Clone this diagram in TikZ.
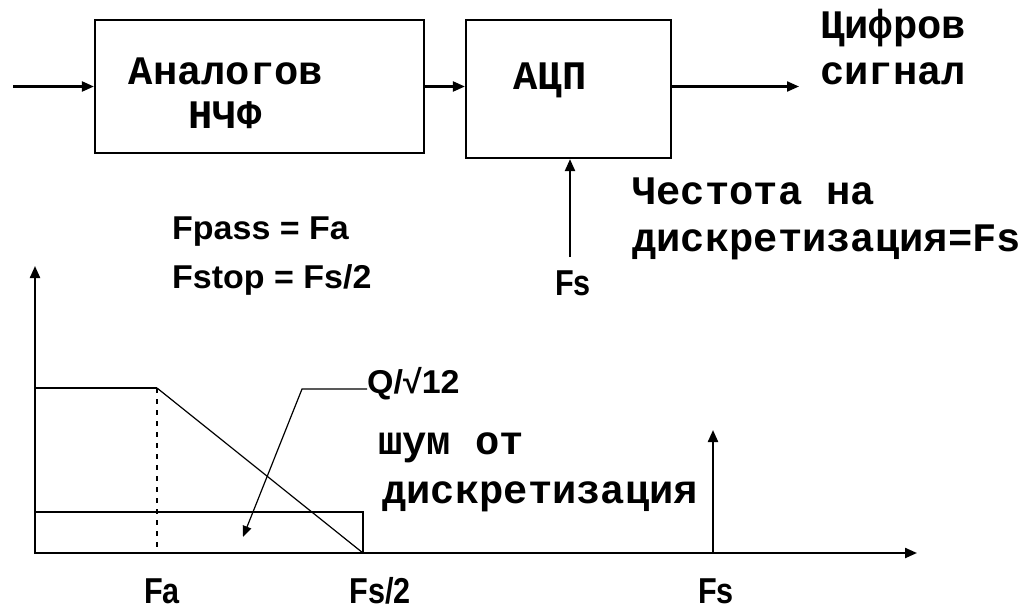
\documentclass[tikz,border=0pt]{standalone}
\usepackage{fontspec}
\newfontfamily\cyrfont{Liberation Mono}
\newfontfamily\labfont[FakeStretch=0.85]{Liberation Sans}
\newfontfamily\eqfont[FakeStretch=1.03]{Liberation Sans}
\usetikzlibrary{arrows.meta}
\begin{document}
\begin{tikzpicture}[x=1pt,y=-1pt,
  blk/.style={draw,line width=2.2pt,inner sep=0pt},
  arr/.style={line width=2.2pt,-{Triangle[length=12pt,width=10pt]}},
  thin/.style={line width=1.2pt},
  cyr/.style={inner sep=0pt,anchor=base west,font=\cyrfont\bfseries\fontsize{40.5}{44}\selectfont},
  cyrc/.style={cyr,anchor=base},
  lab/.style={inner sep=0pt,anchor=base,font=\labfont\bfseries\fontsize{36}{40}\selectfont},
  eq/.style={inner sep=0pt,anchor=base west,font=\eqfont\bfseries\fontsize{33}{36}\selectfont}]
\useasboundingbox (0,0) rectangle (1023,613);
% ---- block diagram ----
\node[blk,minimum width=329pt,minimum height=133pt] (b1) at (259.5,86.5) {};
\node[blk,minimum width=205pt,minimum height=138pt] (b2) at (568.5,89) {};
\coordinate (in) at (13,86.5);
\coordinate (out) at (799,86.5);
\coordinate (fsb) at (570,257);
\draw[arr] (in) -- (b1.west);
\draw[arr] (b1.east) -- (b1.east -| b2.west);
\draw[arr] (out -| b2.east) -- (out);
\draw[arr] (fsb) -- (fsb |- b2.south);
\node[cyrc] (t1a) at (226,84) {Аналогов};
\node[cyrc] (t1b) at (225,128) {НЧФ};
\node[cyrc] (t2) at (550,89) {АЦП};
\node[cyr] (c1) at (820,38) {Цифров};
\node[cyr] (c2) at (820,84) {сигнал};
\node[cyr] (d1) at (632,204) {Честота на};
\node[cyr] (d2) at (632,251) {дискретизация=Fs};
\node[lab] (fs1) at (573,295) {Fs};
% ---- spectrum ----
\node[eq] (e1) at (172,239) {Fpass = Fa};
\node[eq] (e2) at (172,288) {Fstop = Fs/2};
\coordinate (O) at (35,553);
\coordinate (ytip) at (35,266);
\coordinate (xtip) at (917,553);
\draw[arr] (O) -- (ytip);
\draw[arr] (O) -- (xtip);
\coordinate (pa) at (35,388);
\coordinate (pb) at (157,388);
\coordinate (ph) at (363,553);
\draw[line width=1.6pt] (pa) -- (pb);
\draw[thin] (pb) -- (ph);
\draw[line width=1.8pt,dash pattern=on 5pt off 6pt] (pb) -- (pb |- O);
\draw[line width=2pt] (O) rectangle (363,512);
\coordinate (sp) at (713,553);
\coordinate (sptip) at (713,430);
\draw[arr] (sp) -- (sptip);
\node[eq] (q) at (367,393) {Q/√12};
\coordinate (knee) at (302,389);
\coordinate (qtip) at (243,537);
\draw[thin,-{Triangle[length=11pt,width=9pt]}] (q.west |- knee) -- (knee) -- (qtip);
\node[cyr] (n1) at (378,454) {шум от};
\node[cyr] (n2) at (382,503) {дискретизация};
\node[lab] (fa) at (162,603) {Fa};
\node[lab] (fs2l) at (380,603) {Fs/2};
\node[lab] (fsl) at (716,603) {Fs};
\end{tikzpicture}
\end{document}
